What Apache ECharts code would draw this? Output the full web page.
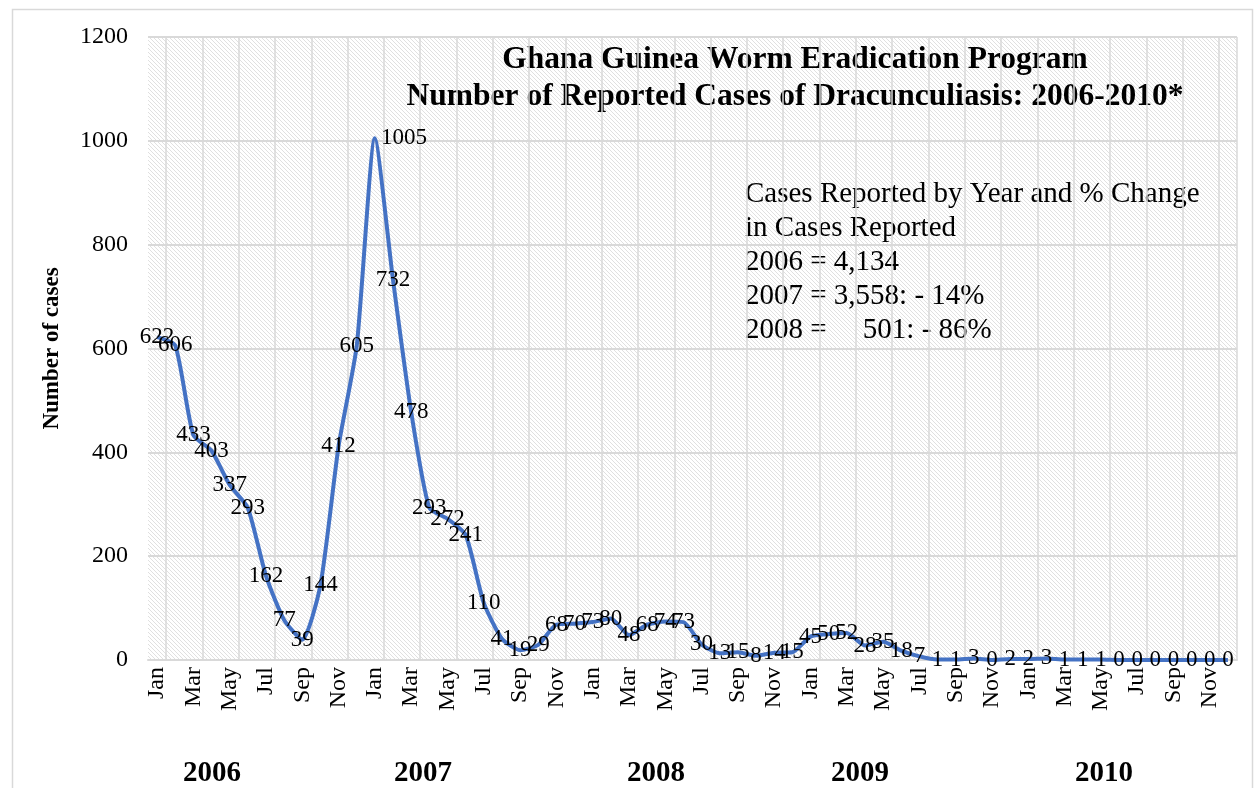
<!DOCTYPE html>
<html><head><meta charset="utf-8">
<script src="https://cdn.jsdelivr.net/npm/echarts@6/dist/echarts.min.js"></script>
<style>html,body{margin:0;padding:0;background:#fff}#c{width:1254px;height:788px}</style>
</head><body><div id="c"></div>
<script>
const monthNames = ['Jan','Feb','Mar','Apr','May','Jun','Jul','Aug','Sep','Oct','Nov','Dec'];
const years = ['2006','2007','2008','2009','2010'];
const cases2006 = [622,606,433,403,337,293,162,77,39,144,412,605];
const cases2007 = [1005,732,478,293,272,241,110,41,19,29,68,70];
const cases2008 = [73,80,48,68,74,73,30,13,15,8,14,15];
const cases2009 = [45,50,52,28,35,18,7,1,1,3,0,2];
const cases2010 = [2,3,1,1,1,0,0,0,0,0,0,0];
const yTicks = [0,200,400,600,800,1000,1200];
const titleLines = ['Ghana Guinea Worm Eradication Program','Number of Reported Cases of Dracunculiasis: 2006-2010*'];
const noteLines = ['Cases Reported by Year and % Change','in Cases Reported','2006 = 4,134','2007 = 3,558: - 14%','2008 =     501: - 86%'];

const categories = [];
years.forEach(()=>monthNames.forEach(m=>categories.push(m)));
const values = [].concat(cases2006,cases2007,cases2008,cases2009,cases2010);
const FONT = '"Liberation Serif","Times New Roman",serif';

// hatch pattern
const pc = document.createElement('canvas');
pc.width = 4; pc.height = 4;
const g = pc.getContext('2d');
g.fillStyle = '#ffffff'; g.fillRect(0,0,4,4);
g.strokeStyle = '#e0e0e0'; g.lineWidth = 1;
g.beginPath();
g.moveTo(0,0); g.lineTo(4,4);
g.moveTo(-2,2); g.lineTo(2,6);
g.moveTo(2,-2); g.lineTo(6,2);
g.stroke();

const chart = echarts.init(document.getElementById('c'), null, {renderer:'canvas'});
const peak = Math.max.apply(null, values);
const data = values.map((v)=>{
  const d = {value:v};
  if (v === peak) d.label = {position:'right', offset:[-8,0]};
  return d;
});
const yearX = [212, 423, 656, 860, 1104];
chart.setOption({
  backgroundColor:'#ffffff',
  animation:false,
  grid:{left:148, right:17, top:37, bottom:128, show:true, backgroundColor:{image:pc, repeat:'repeat'}, borderWidth:0},
  xAxis:{
    type:'category', data:categories, boundaryGap:true,
    axisLine:{show:true, lineStyle:{color:'#d9d9d9', width:2}},
    axisTick:{show:false},
    axisLabel:{interval:1, rotate:90, fontFamily:FONT, fontSize:24, color:'#000', margin:7},
    splitLine:{show:true, interval:(i)=>i%2===1, lineStyle:{color:'#d9d9d9', width:1.5}}
  },
  yAxis:{
    type:'value', min:0, max:1200, interval:200,
    name:'Number of cases', nameLocation:'middle', nameGap:84, nameRotate:90,
    nameTextStyle:{fontFamily:FONT, fontWeight:'bold', fontSize:23, color:'#000'},
    axisLine:{show:false}, axisTick:{show:false},
    axisLabel:{fontFamily:FONT, fontSize:24, color:'#000', margin:20,
      formatter:(v)=> yTicks.indexOf(v) >= 0 ? String(v) : ''},
    splitLine:{show:true, lineStyle:{color:'#d9d9d9', width:2}}
  },
  series:[{
    type:'line', data:data, smooth:0.2, symbol:'circle', symbolSize:2, showSymbol:true,
    itemStyle:{color:'rgba(68,114,196,0)'},
    lineStyle:{color:'#4472C4', width:4},
    label:{show:true, position:'inside', fontFamily:FONT, fontSize:23, color:'#000', textBorderWidth:0},
    labelLayout:{hideOverlap:false},
    z:3
  }],
  graphic:[
    {type:'rect', left:10, top:7, shape:{width:1240, height:800}, style:{fill:'none', stroke:'#d9d9d9', lineWidth:1.5}, silent:true},
    {type:'text', x:795, y:60, style:{text:titleLines[0], font:'bold 31.5px '+FONT, fill:'#000', align:'center', verticalAlign:'middle'}},
    {type:'text', x:795, y:97, style:{text:titleLines[1], font:'bold 31.5px '+FONT, fill:'#000', align:'center', verticalAlign:'middle'}},
    {type:'text', left:745, top:177, style:{text:noteLines.join('\n'), font:'29px '+FONT, fill:'#000', lineHeight:34}},
  ].concat(years.map((y,i)=>({type:'text', x:yearX[i], y:774, style:{text:y, font:'bold 29px '+FONT, fill:'#000', align:'center', verticalAlign:'middle'}})))
});
</script></body></html>
